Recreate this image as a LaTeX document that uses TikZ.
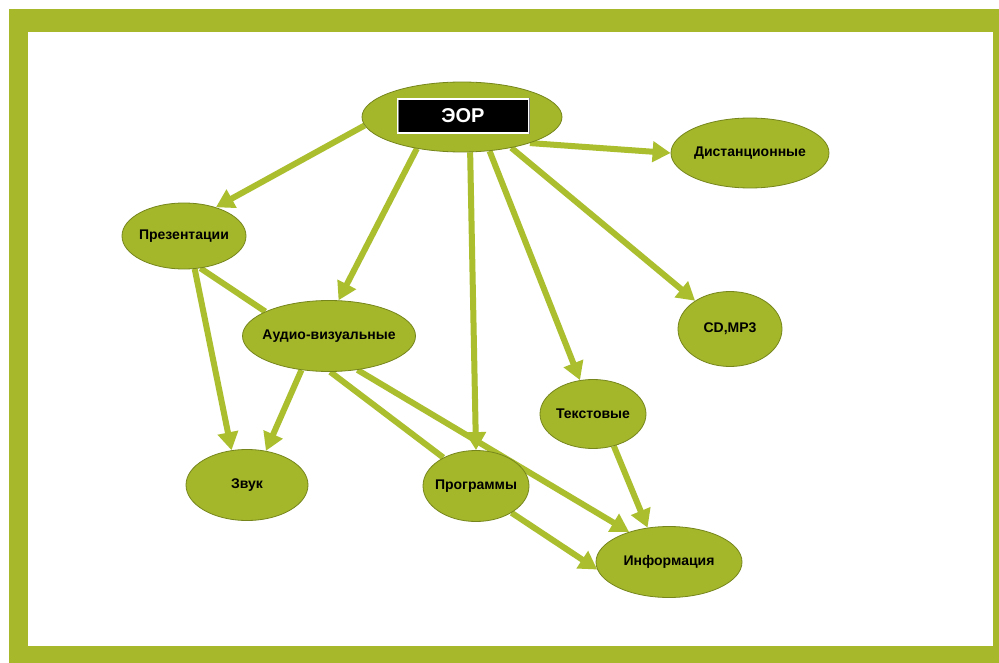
\documentclass[tikz,border=0pt]{standalone}
\usepackage{fontspec}
\setmainfont{Liberation Sans}
\usetikzlibrary{shapes.geometric,arrows.meta,backgrounds}
\definecolor{framegreen}{RGB}{167,184,42}
\definecolor{nodegreen}{RGB}{164,183,42}
\definecolor{nodeedge}{RGB}{118,134,28}
\definecolor{linkgreen}{RGB}{170,190,46}
\tikzset{
  bubble/.style={ellipse,fill=nodegreen,draw=nodeedge,line width=0.8pt,inner xsep=-12pt,inner ysep=0pt,font=\fontsize{14}{16}\selectfont\bfseries},
  link/.style={draw=linkgreen,line width=6pt,-{Triangle[length=18pt,width=20pt]}},
  plainlink/.style={draw=linkgreen,line width=6pt}
}
\begin{document}
\begin{tikzpicture}[x=1pt,y=-1pt]
    \useasboundingbox (0,0) rectangle (999,663);
    \node[bubble,minimum width=200pt,minimum height=70pt] (eor) at (462,117) {};
    \node[fill=black,text=white,draw=gray,double=white,double distance=1.2pt,minimum width=131pt,minimum height=34pt,font=\fontsize{20}{22}\selectfont\bfseries] (eortitle) at (463,116) {ЭОР};
    \node[bubble,minimum width=158pt,minimum height=70pt] (dist) at (750,153) {Дистанционные};
    \node[bubble,minimum width=124pt,minimum height=66pt] (prez) at (184,236) {Презентации};
    \node[bubble,minimum width=173pt,minimum height=71pt] (audio) at (329,336) {Аудио-визуальные};
    \node[bubble,minimum width=104pt,minimum height=75pt] (cd) at (730,329) {CD,MP3};
    \node[bubble,minimum width=106pt,minimum height=69pt] (text) at (593,414) {Текстовые};
    \node[bubble,minimum width=122pt,minimum height=71pt] (zvuk) at (247,485) {Звук};
    \node[bubble,minimum width=106pt,minimum height=71pt] (prog) at (476,486) {Программы};
    \node[bubble,minimum width=146pt,minimum height=71pt] (info) at (669,562) {Информация};
    \begin{scope}[on background layer]
        \fill[framegreen] (9,9) rectangle (999,663);
        \fill[white] (28,32) rectangle (993,646);
        \draw[link] (eor.185) -- (prez.42);
        \draw[link] (eor.215) -- (audio.75);
        \draw[link] (eor.283) -- (prog.north);
        \draw[link] (eor.309) -- (text.111);
        \draw[link] (eor.328) -- (cd.141);
        \draw[link] (eor.339) -- (dist.west);
        \draw[link] (prez.288) -- (zvuk.114);
        \draw[plainlink] (prez.297) -- (audio.159);
        \draw[link] (audio.231) -- (zvuk.61);
        \draw[plainlink] (audio.272) -- (prog.139);
        \draw[link] (audio.310) -- (info.143);
        \draw[link] (prog.323) -- (info.186);
        \draw[link] (text.303) -- (info.122);
    \end{scope}
\end{tikzpicture}
\end{document}
